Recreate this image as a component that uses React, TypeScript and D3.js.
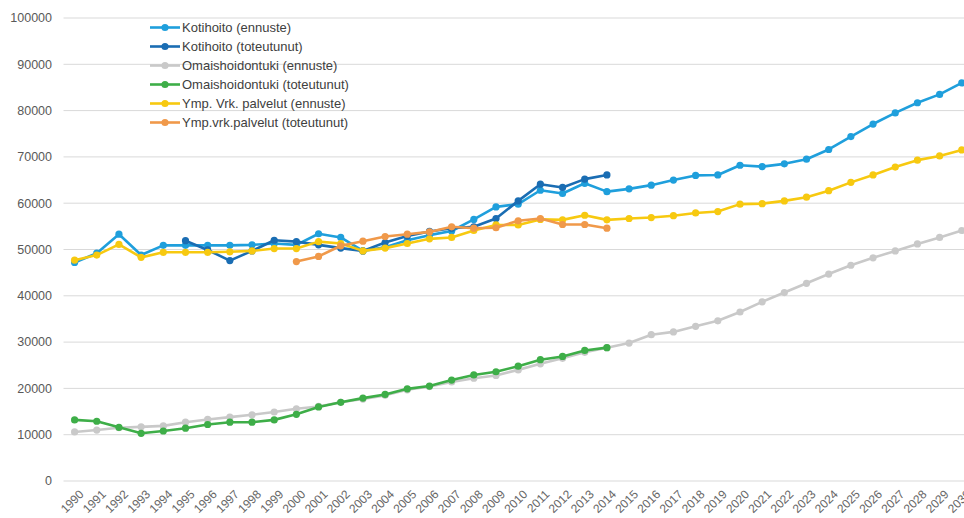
import React from "react";
import * as d3 from "d3";

const years: number[] = d3.range(1990, 2031);

const kotihoitoEnnuste: (number | null)[] = [
  47200, 49200, 53300, 48800, 50900, 50900, 50900, 50900, 51000, 51300,
  51000, 53400, 52600, 49700, 50500, 52000, 53100, 54000, 56500, 59200,
  59800, 62800, 62100, 64300, 62500, 63100, 63900, 65000, 66000, 66100,
  68200, 67900, 68500, 69500, 71600, 74400, 77100, 79500, 81700, 83500, 86000,
];

const kotihoitoToteutunut: (number | null)[] = [
  null, null, null, null, null, 51900, 49900, 47600, 49700, 52000,
  51700, 51000, 50300, 49700, 51500, 52900, 53900, 54600, 54900, 56700,
  60500, 64100, 63400, 65200, 66100,
  null, null, null, null, null, null, null, null, null, null, null, null, null, null, null, null,
];

const omaishoidontukiEnnuste: (number | null)[] = [
  10600, 11000, 11500, 11700, 11900, 12700, 13300, 13800, 14300, 14900,
  15600, 16100, 17000, 17700, 18500, 19700, 20400, 21400, 22200, 22800,
  24000, 25300, 26500, 27800, 28800, 29800, 31600, 32200, 33400, 34600,
  36500, 38700, 40700, 42700, 44700, 46600, 48200, 49700, 51200, 52600, 54100,
];

const omaishoidontukiToteutunut: (number | null)[] = [
  13200, 12900, 11600, 10300, 10800, 11400, 12200, 12700, 12700, 13200,
  14400, 16000, 17000, 17900, 18700, 19900, 20500, 21800, 22900, 23600,
  24800, 26200, 26900, 28200, 28800,
  null, null, null, null, null, null, null, null, null, null, null, null, null, null, null, null,
];

const ympEnnuste: (number | null)[] = [
  47700, 48800, 51100, 48300, 49400, 49400, 49400, 49500, 49700, 50200,
  50200, 51700, 51300, 49700, 50300, 51300, 52300, 52600, 54100, 55300,
  55300, 56500, 56400, 57400, 56400, 56700, 56900, 57300, 57900, 58200,
  59800, 59900, 60500, 61300, 62700, 64500, 66100, 67800, 69300, 70200, 71500,
];

const ympToteutunut: (number | null)[] = [
  null, null, null, null, null, null, null, null, null, null,
  47400, 48500, 50800, 51800, 52800, 53300, 53800, 54900, 54600, 54700,
  56200, 56700, 55400, 55400, 54600,
  null, null, null, null, null, null, null, null, null, null, null, null, null, null, null, null,
];

const yTicks: number[] = [0, 10000, 20000, 30000, 40000, 50000, 60000, 70000, 80000, 90000, 100000];

const seriesNames: string[] = [
  "Kotihoito (ennuste)",
  "Kotihoito (toteutunut)",
  "Omaishoidontuki (ennuste)",
  "Omaishoidontuki (toteutunut)",
  "Ymp. Vrk. palvelut (ennuste)",
  "Ymp.vrk.palvelut (toteutunut)",
];
const seriesValues = [
  kotihoitoEnnuste,
  kotihoitoToteutunut,
  omaishoidontukiEnnuste,
  omaishoidontukiToteutunut,
  ympEnnuste,
  ympToteutunut,
];
const seriesColors: string[] = ["#1f9fdc", "#1a6db3", "#c9c9c9", "#3eae48", "#f7c910", "#f0994a"];

const W = 964;
const H = 518;
const FONT = "'Liberation Sans', Arial, sans-serif";

export default function App() {
  const step = 22.18;
  const x0 = 63.5;
  const x = d3
    .scaleBand<number>()
    .domain(years)
    .range([x0, x0 + step * years.length])
    .paddingInner(0)
    .paddingOuter(0);
  const cx = (yr: number) => (x(yr) as number) + x.bandwidth() / 2;
  const y = d3.scaleLinear().domain([0, 100000]).range([481, 18]);

  const line = d3
    .line<number | null>()
    .defined((d) => d !== null)
    .x((_, i) => cx(years[i]))
    .y((d) => y(d as number));

  return (
    <svg
      width={W}
      height={H}
      style={{ position: "absolute", left: 0, top: 0, background: "#fff" }}
      fontFamily={FONT}
    >
      <rect x={0} y={0} width={W} height={H} fill="#fff" />
      {yTicks.map((t) => (
        <g key={t}>
          <line x1={x0} x2={W} y1={y(t)} y2={y(t)} stroke="#d9d9d9" strokeWidth={1} />
          <text x={52} y={y(t)} dy="0.35em" textAnchor="end" fontSize={12.5} fill="#595959">
            {t}
          </text>
        </g>
      ))}
      {years.map((yr) => (
        <text
          key={yr}
          transform={`translate(${cx(yr) + 4},${489}) rotate(-45)`}
          textAnchor="end"
          dy="0.7em"
          fontSize={12}
          fill="#666666"
        >
          {yr}
        </text>
      ))}
      {seriesValues.map((vals, si) => (
        <g key={si}>
          <path d={line(vals) || ""} fill="none" stroke={seriesColors[si]} strokeWidth={2.6} strokeLinejoin="round" />
          {vals.map((v, i) =>
            v === null ? null : (
              <circle key={i} cx={cx(years[i])} cy={y(v)} r={3.6} fill={seriesColors[si]} />
            )
          )}
        </g>
      ))}
      {seriesNames.map((n, si) => {
        const ly = 27.5 + si * 19;
        return (
          <g key={n}>
            <line x1={150} x2={180} y1={ly} y2={ly} stroke={seriesColors[si]} strokeWidth={2.6} />
            <circle cx={165} cy={ly} r={3.6} fill={seriesColors[si]} />
            <text x={182} y={ly} dy="0.35em" fontSize={13} fill="#404040">
              {n}
            </text>
          </g>
        );
      })}
    </svg>
  );
}
